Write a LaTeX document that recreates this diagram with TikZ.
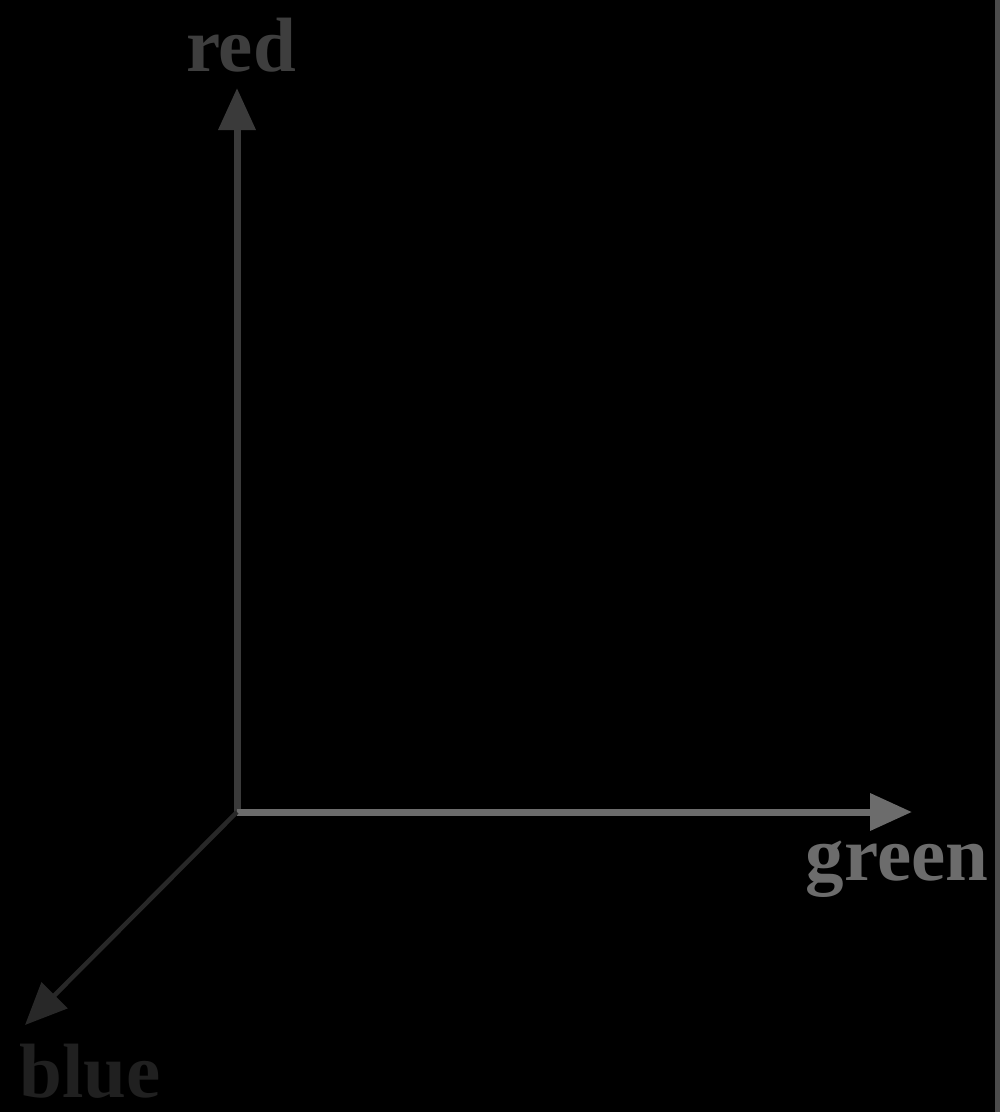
\documentclass[tikz,border=0pt]{standalone}
\usepackage{fontspec}
\setmainfont{Liberation Serif}
\usetikzlibrary{arrows.meta}
\definecolor{redax}{RGB}{58,58,58}
\definecolor{greenax}{RGB}{108,108,108}
\definecolor{blueax}{RGB}{40,40,40}
\definecolor{redtxt}{RGB}{62,62,62}
\definecolor{greentxt}{RGB}{108,108,108}
\definecolor{bluetxt}{RGB}{32,32,32}
\definecolor{edgeline}{RGB}{75,75,75}
\begin{document}
\begin{tikzpicture}[x=1pt,y=-1pt,
  axis/.style={line width=7pt,-{Triangle[length=42pt,width=36pt]}},
  lbl/.style={font=\fontsize{77}{80}\selectfont\bfseries,inner sep=0pt,anchor=base}]
\fill[black] (0,0) rectangle (1000,1112);
\useasboundingbox (0,0) rectangle (1000,1112);
\draw[edgeline,line width=5pt] (997.5,0) -- (997.5,1112);
\coordinate (O) at (237,812);
\coordinate (R) at (237,88);
\coordinate (G) at (912,812);
\coordinate (B) at (25,1025);
\draw[axis,redax] (O) -- (R);
\draw[axis,greenax] (O) -- (G);
\draw[axis,blueax,line width=4.5pt] (O) -- (B);
\node[lbl,text=redtxt] (rl) at (241,71) {red};
\node[lbl,text=greentxt] (gl) at (897,880) {green};
\node[lbl,text=bluetxt] (bl) at (90,1097) {blue};
\end{tikzpicture}
\end{document}
